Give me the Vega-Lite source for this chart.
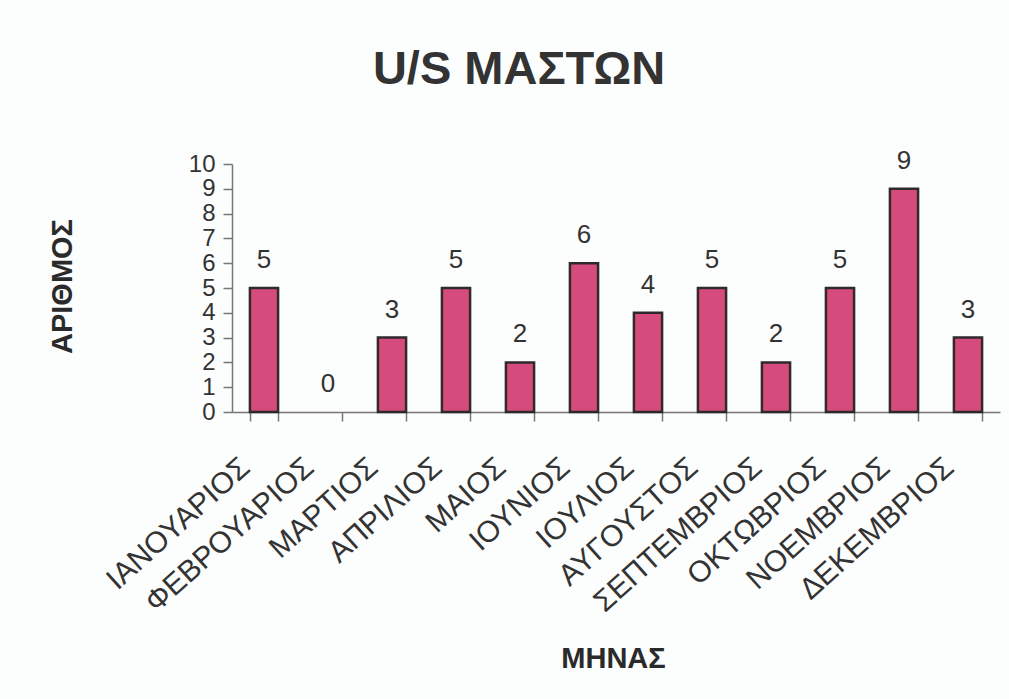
{
  "$schema": "https://vega.github.io/schema/vega-lite/v6.json",
  "autosize": "none",
  "width": 768,
  "height": 248,
  "padding": {"left": 232, "top": 164, "right": 9, "bottom": 287},
  "background": "#fcfdfd",
  "title": {
    "text": "U/S ΜΑΣΤΩΝ",
    "font": "Liberation Sans",
    "fontSize": 47,
    "fontWeight": "bold",
    "color": "#333333",
    "anchor": "middle",
    "frame": "group",
    "dx": -97,
    "baseline": "alphabetic",
    "offset": 17
  },
  "data": {
    "values": [
      {"month": "ΙΑΝΟΥΑΡΙΟΣ", "count": 5},
      {"month": "ΦΕΒΡΟΥΑΡΙΟΣ", "count": 0},
      {"month": "ΜΑΡΤΙΟΣ", "count": 3},
      {"month": "ΑΠΡΙΛΙΟΣ", "count": 5},
      {"month": "ΜΑΙΟΣ", "count": 2},
      {"month": "ΙΟΥΝΙΟΣ", "count": 6},
      {"month": "ΙΟΥΛΙΟΣ", "count": 4},
      {"month": "ΑΥΓΟΥΣΤΟΣ", "count": 5},
      {"month": "ΣΕΠΤΕΜΒΡΙΟΣ", "count": 2},
      {"month": "ΟΚΤΩΒΡΙΟΣ", "count": 5},
      {"month": "ΝΟΕΜΒΡΙΟΣ", "count": 9},
      {"month": "ΔΕΚΕΜΒΡΙΟΣ", "count": 3}
    ]
  },
  "config": {
    "view": {"stroke": null},
    "axis": {
      "labelFont": "Liberation Sans",
      "titleFont": "Liberation Sans",
      "labelColor": "#333333",
      "titleColor": "#2a2a2a",
      "domainColor": "#777777",
      "tickColor": "#777777",
      "domainWidth": 1.5,
      "tickWidth": 1.5,
      "grid": false
    }
  },
  "encoding": {
    "x": {
      "field": "month",
      "type": "nominal",
      "sort": null,
      "scale": {"paddingInner": 0.56, "paddingOuter": 0.28},
      "axis": {
        "title": "ΜΗΝΑΣ",
        "titleFontSize": 29,
        "titleFontWeight": "bold",
        "titleX": 381,
        "titleY": 255,
        "titleBaseline": "alphabetic",
        "titleAlign": "center",
        "labelFontSize": 30,
        "labelAngle": -42,
        "labelAlign": "right",
        "labelBaseline": "middle",
        "labelPadding": 42,
        "labelOffset": -19,
        "labelLimit": 0,
        "tickSize": 9,
        "tickBand": "extent",
        "labelOverlap": false
      }
    },
    "y": {
      "field": "count",
      "type": "quantitative",
      "scale": {"domain": [0, 10], "nice": false},
      "axis": {
        "title": "ΑΡΙΘΜΟΣ",
        "titleFontSize": 29,
        "titleFontWeight": "bold",
        "titleAngle": -90,
        "titleX": -170,
        "titleY": 122,
        "titleBaseline": "middle",
        "titleAlign": "center",
        "values": [0, 1, 2, 3, 4, 5, 6, 7, 8, 9, 10],
        "labelFontSize": 24,
        "labelPadding": 8,
        "tickSize": 9,
        "labelOverlap": false
      }
    }
  },
  "layer": [
    {
      "mark": {"type": "bar", "color": "#d64b7d", "stroke": "#2e2a2c", "strokeWidth": 2.5},
      "encoding": {
        "strokeOpacity": {"condition": {"test": "datum.count == 0", "value": 0}, "value": 1}
      }
    },
    {
      "mark": {"type": "text", "baseline": "alphabetic", "dy": -20, "font": "Liberation Sans", "fontSize": 26, "color": "#333333"},
      "encoding": {"text": {"field": "count", "type": "quantitative"}}
    }
  ]
}
